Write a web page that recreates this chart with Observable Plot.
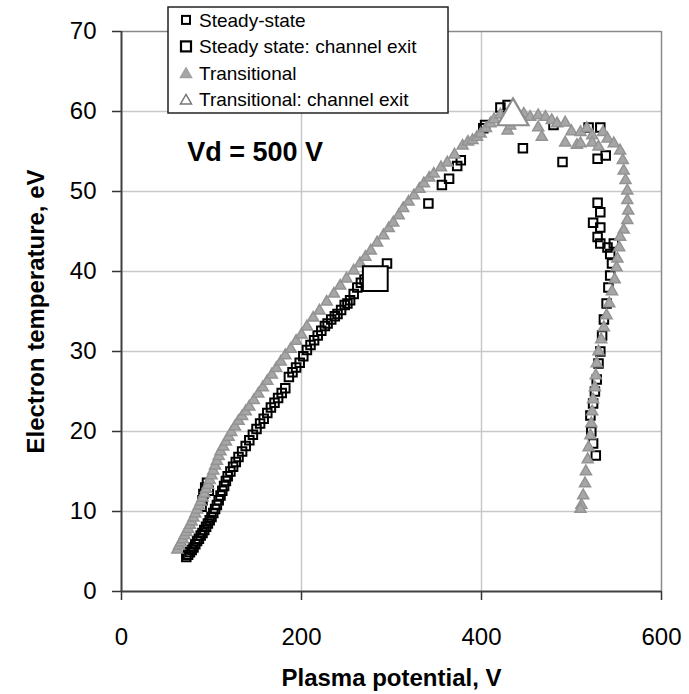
<!DOCTYPE html>
<html>
<head>
<meta charset="utf-8">
<script src="https://cdn.jsdelivr.net/npm/d3@7"></script>
<script src="https://cdn.jsdelivr.net/npm/@observablehq/plot@0.6"></script>
<style>
  html, body { margin: 0; padding: 0; background: #fff; }
  #wrap { position: relative; width: 689px; height: 694px; font-family: "Liberation Sans", Arial, sans-serif; }
  #legend { position: absolute; left: 0; top: 0; pointer-events: none; }
</style>
</head>
<body>
<div id="wrap"><div id="chart"></div></div>
<script>
// ---- data (plasma potential V, electron temperature eV) ----
const steadyV = [72,74,76,78,80,82,84,86,88,90,92,94,96,98,100,102,104,106,89,90,91,93,95,97,
  108,110,112,114,116,118,121,124,127,130,134,138,142,146,150,154,158,162,166,170,174,178,182,186,190,194,198,
  202,206,210,214,218,222,226,229,233,237,240,244,248,251,254,258,262,266,270,295,
  341,356,364,373,377,402,404,421,429,446,480,490,519,532,529,538,
  529,532,524,532,529,532,540,543,547,545,543,541,539,536,534,532,530,528,526,524,521,522,524,527];
const steadyT = [4.3,4.6,4.9,5.2,5.5,5.9,6.3,6.6,7.0,7.3,7.7,8.1,8.5,8.9,9.3,9.8,10.3,10.8,10.6,11.4,12.2,13.0,13.6,12.6,
  11.4,12.0,12.6,13.2,13.8,14.4,15.0,15.6,16.2,16.8,17.5,18.2,18.9,19.6,20.3,21.0,21.6,22.3,23.0,23.6,24.2,24.8,25.4,26.8,27.4,28.0,28.6,
  29.4,30.2,30.8,31.4,32.0,32.6,33.2,33.5,34.0,34.4,34.7,35.2,35.8,36.0,36.4,37.2,38.0,38.6,39.0,41.0,
  48.5,50.8,51.6,53.2,53.9,57.9,58.3,60.5,60.8,55.4,58.3,53.7,58.0,58.0,54.1,54.5,
  48.6,47.4,46.1,45.5,44.3,43.5,43.0,42.2,43.5,41.0,39.5,38.0,36.0,34.0,32.0,30.0,28.5,26.5,25.0,23.5,22.0,20.0,18.5,17.0];

const steadyExitV = [282];
const steadyExitT = [39.1];

const transV = [62,64,66,68,70,72,74,76,78,80,82,84,86,88,90,92,94,96,98,100,102,104,106,108,110,
  113,116,119,122,126,130,134,138,142,147,152,157,162,167,172,177,182,188,194,200,206,213,220,228,236,
  243,250,258,265,271,277,284,291,297,302,308,313,319,325,331,336,342,347,355,362,370,379,385,390,395,
  399,405,410,414,421,429,432,447,454,463,471,463,467,478,484,493,493,500,506,510,510,517,523,523,530,
  535,540,547,554,557,558,560,562,562,563,562,558,554,553,551,550,548,545,542,539,536,533,530,528,527,
  526,524,523,522,521,519,518,516,515,513,511,510];
const transT = [5.2,5.7,6.1,6.5,7.0,7.4,7.8,8.3,8.7,9.2,9.7,10.2,10.7,11.2,11.7,12.2,12.8,13.3,13.9,14.5,15.1,15.7,16.3,16.9,17.5,
  18.1,18.7,19.3,19.9,20.6,21.3,21.9,22.5,23.1,23.9,24.7,25.5,26.3,27.1,27.9,28.7,29.5,30.3,31.3,32.1,33.1,34.2,35.1,36.2,37.2,
  38.2,39.1,40.1,41.0,41.8,42.6,43.6,44.5,45.4,46.1,47.0,47.9,48.7,49.5,50.3,51.0,51.7,52.2,53.0,53.6,54.6,55.7,56.2,56.4,56.8,
  57.2,57.9,58.5,59.0,59.6,57.6,58.2,59.7,59.3,59.5,59.3,58.0,56.8,58.9,58.5,58.6,56.1,57.5,55.8,57.4,56.0,57.9,57.0,56.1,55.6,
  57.4,56.6,56.0,55.1,53.9,52.6,51.4,50.1,48.9,47.6,46.4,45.2,44.3,43.0,41.6,40.5,39.0,37.5,36.0,34.5,33.0,31.5,30.0,28.5,27.0,
  25.5,24.0,22.5,21.0,19.5,18.0,16.5,15.0,13.5,12.0,10.8,10.3];

const transExitV = [435];
const transExitT = [59.4];

const xTicks = [0, 200, 400, 600];
const yTicks = [0, 10, 20, 30, 40, 50, 60, 70];
const seriesNames = ["Steady-state", "Steady state: channel exit", "Transitional", "Transitional: channel exit"];
const annotation = [{V: 224, T: 54.9, text: "Vd = 500 V"}];

const pts = (xs, ys) => xs.map((v, i) => ({V: v, T: ys[i]}));
const steady = pts(steadyV, steadyT);
const steadyExit = pts(steadyExitV, steadyExitT);
const trans = pts(transV, transT);
const transExit = pts(transExitV, transExitT);

const grid = {stroke: "#c8c8c8", strokeOpacity: 1, strokeWidth: 1.5};

const chart = Plot.plot({
  width: 689,
  height: 694,
  marginLeft: 121,
  marginRight: 28,
  marginTop: 31,
  marginBottom: 103,
  x: {domain: [0, 600]},
  y: {domain: [0, 70]},
  style: {fontFamily: "'Liberation Sans', Arial, sans-serif", fontSize: "24px", color: "#000", background: "#fff", overflow: "visible"},
  marks: [
    Plot.gridX(xTicks.filter(d => d > 0 && d < 600), grid),
    Plot.gridY(yTicks.filter(d => d > 0 && d < 70), grid),
    Plot.ruleY([70], {stroke: "#8a8a8a", strokeWidth: 1.5}),
    Plot.ruleX([600], {stroke: "#8a8a8a", strokeWidth: 1.5}),
    Plot.axisX({ticks: xTicks, tickSize: 9, tickPadding: 27, label: null, stroke: "#333", strokeWidth: 1.5, tickFormat: d => String(d)}),
    Plot.axisY({ticks: yTicks, tickSize: 9, tickPadding: 16, label: null, stroke: "#333", strokeWidth: 1.5, tickFormat: d => String(d)}),
    Plot.ruleX([0], {stroke: "#404040", strokeWidth: 2}),
    Plot.ruleY([0], {stroke: "#404040", strokeWidth: 2}),
    Plot.dot(steady, {x: "V", y: "T", symbol: "square", r: 4.8, fill: "none", stroke: "#000", strokeWidth: 2}),
    Plot.dot(trans, {x: "V", y: "T", symbol: "triangle", r: 4.1, fill: "#a6a6a6", stroke: "#939393", strokeWidth: 1.5}),
    Plot.dot(steadyExit, {x: "V", y: "T", symbol: "square", r: 14, fill: "#fff", stroke: "#000", strokeWidth: 2}),
    Plot.dot(transExit, {x: "V", y: "T", symbol: "triangle", r: 11.5, fill: "#fff", stroke: "#8c8c8c", strokeWidth: 2.2}),
    Plot.text(annotation, {x: "V", y: "T", text: "text", textAnchor: "end", lineAnchor: "middle", fontSize: 27, fontWeight: "bold", fill: "#000"}),
    Plot.text(["Plasma potential, V"], {frameAnchor: "bottom", dy: 87, lineAnchor: "middle", textAnchor: "middle", fontSize: 24, fontWeight: "bold", fill: "#000"}),
    Plot.text(["Electron temperature, eV"], {frameAnchor: "left", dx: -85, rotate: -90, lineAnchor: "middle", textAnchor: "middle", fontSize: 24, fontWeight: "bold", fill: "#000"})
  ]
});
document.getElementById("chart").appendChild(chart);

// ---- legend overlay ----
const lg = d3.select("#wrap").append("svg").attr("id", "legend").attr("width", 689).attr("height", 694);
lg.append("rect").attr("x", 168).attr("y", 7).attr("width", 280).attr("height", 106)
  .attr("fill", "#fff").attr("stroke", "#222").attr("stroke-width", 1.5);
const rowBase = i => 26.7 + i * 26.5;
const mx = 186;
seriesNames.forEach((name, i) => {
  const by = rowBase(i);
  const cy = by - 6.8;
  if (i === 0) {
    lg.append("rect").attr("x", mx - 4).attr("y", cy - 4).attr("width", 8).attr("height", 8)
      .attr("fill", "none").attr("stroke", "#000").attr("stroke-width", 2);
  } else if (i === 1) {
    lg.append("rect").attr("x", mx - 5).attr("y", cy - 5).attr("width", 10).attr("height", 10)
      .attr("fill", "none").attr("stroke", "#000").attr("stroke-width", 2.2);
  } else {
    const p = `M${mx},${cy - 5}L${mx + 5.5},${cy + 4.5}L${mx - 5.5},${cy + 4.5}Z`;
    lg.append("path").attr("d", p)
      .attr("fill", i === 2 ? "#a6a6a6" : "#fff")
      .attr("stroke", i === 2 ? "#a0a0a0" : "#777")
      .attr("stroke-width", 1.5);
  }
  lg.append("text").attr("x", 199).attr("y", by).text(name)
    .attr("font-family", "'Liberation Sans', Arial, sans-serif").attr("font-size", 19).attr("fill", "#000");
});
</script>
</body>
</html>
